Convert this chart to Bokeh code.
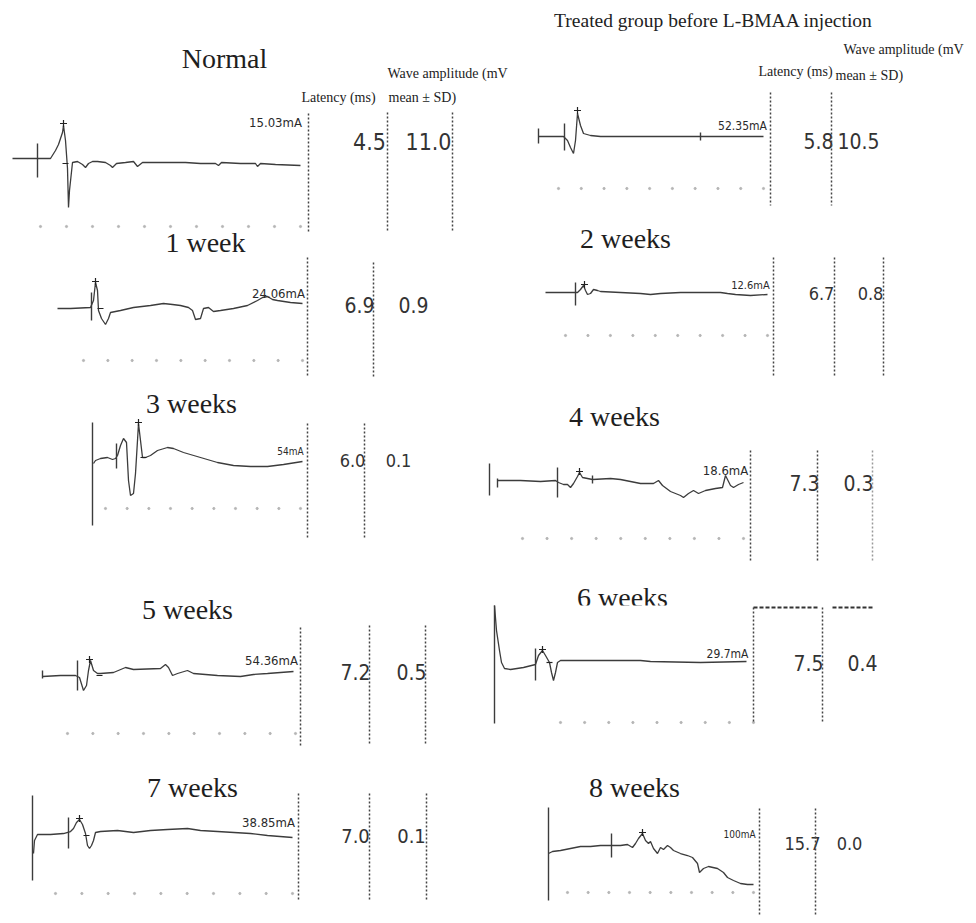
from bokeh.plotting import figure
from bokeh.models import Range1d
from bokeh.embed import file_html
from bokeh.resources import INLINE
from bokeh.core.properties import value
import numpy as np

# ------------------------------------------------------------------ data
group_labels = ["Normal", "1 week", "3 weeks", "5 weeks", "7 weeks",
                "", "2 weeks", "4 weeks", "6 weeks", "8 weeks"]
latency_ms = [4.5, 6.9, 6.0, 7.2, 7.0, 5.8, 6.7, 7.3, 7.5, 15.7]
amplitude_mv = [11.0, 0.9, 0.1, 0.5, 0.1, 10.5, 0.8, 0.3, 0.4, 0.0]
stim_labels = ["15.03mA", "24.06mA", "54mA", "54.36mA", "38.85mA",
               "52.35mA", "12.6mA", "18.6mA", "29.7mA", "100mA"]
top_title = "Treated group before L-BMAA injection"
hdr_latency = "Latency (ms)"
hdr_amp1 = "Wave amplitude (mV"
hdr_amp2 = "mean \u00b1 SD)"

# traces: time (ms) / amplitude (mV)
normal_t = [0, 3.8, 4.3, 4.6, 5.0, 5.1, 5.3, 5.5, 5.6, 5.7, 6.0, 6.5, 7.0, 7.3, 7.6, 8.0, 8.5, 9.3,
            9.8, 10.0, 10.4, 11.3, 12.1, 12.5, 13.0, 14.8, 17.3, 18.8, 20.3, 20.6, 20.9, 22.8, 24.3,
            24.5, 24.8, 26.3, 28.8]
normal_v = [0, 0, 0.8, 1.4, 2.6, 3.3, 1.8, -1.0, -4.9, -3.2, -0.4, -0.3, -0.6, -0.9, -0.5, -0.3,
            -0.3, -0.4, -0.7, -0.9, -0.5, -0.4, -0.3, -0.8, -0.4, -0.4, -0.4, -0.5, -0.5, -0.7,
            -0.4, -0.5, -0.5, -0.8, -0.5, -0.6, -0.7]
wk1_t = [0, 1.3, 3.3, 3.6, 3.8, 4.0, 4.1, 4.4, 4.8, 5.1, 5.3, 6.3, 7.6, 9.3, 10.6, 11.5, 12.3,
         13.1, 13.5, 13.8, 14.3, 14.6, 15.1, 15.6, 16.3, 17.6, 19.0, 20.0, 20.5, 21.0, 21.5,
         22.0, 23.3, 24.5]
wk1_v = [0, 0, 0.1, 0.8, 2.6, 1.8, -0.2, -1.0, -1.6, -1.0, -0.4, -0.2, 0.1, 0.3, 0.5, 0.4, 0.3,
         0.1, -0.2, -1.1, -1.0, 0.0, 0.1, -0.3, -0.2, 0.0, 0.3, 0.8, 1.1, 1.2, 0.9, 0.8, 0.6, 0.5]
wk3_t = [0.1, 0.3, 0.8, 1.5, 2.0, 2.3, 2.5, 2.8, 3.1, 3.4, 3.6, 3.8, 4.1, 4.3, 4.5, 4.6, 4.8,
         5.0, 5.3, 5.8, 6.5, 7.5, 8.1, 9.1, 10.8, 12.5, 14.1, 15.8, 17.5, 19.1, 21.0]
wk3_v = [-0.3, 0, 0.2, 0.3, 0.1, 0.2, 0.5, 1.5, 2.2, 1.8, -2.0, -3.5, -3.3, -1.3, 2.0, 3.7, 2.0,
         0.3, 0.3, 0.5, 1.0, 1.3, 1.2, 0.8, 0.3, -0.2, -0.5, -0.6, -0.6, -0.4, -0.1]
wk5_t = [0, 1.8, 3.3, 3.7, 4.1, 4.4, 4.6, 4.8, 5.1, 5.5, 5.8, 7.1, 8.3, 9.1, 11.8, 12.3, 12.6,
         13.0, 13.5, 14.5, 15.1, 17.5, 19.8, 21.1, 22.5, 25.1]
wk5_v = [-0.1, 0, 0, -0.2, -1.5, -1.0, 0.5, 1.5, 0.5, 0.2, 0.2, 0.3, 0.8, 0.6, 0.7, 1.1, 0.8,
         0, 0.2, 0.5, 0.2, 0, -0.1, 0.1, 0.2, 0.4]
wk7_t = [0.1, 0.2, 0.5, 1.8, 3.1, 3.8, 4.1, 4.4, 4.7, 5.0, 5.3, 5.5, 5.7, 5.9, 6.1, 6.3, 6.8,
         8.5, 10.1, 11.8, 13.5, 15.5, 16.8, 18.5, 21.8, 23.5, 26.0]
wk7_v = [-1.9, -0.6, 0, 0, 0.1, 0.3, 0.6, 1.2, 1.5, 1.0, 0.1, -1.1, -1.4, -1.1, -0.6, 0.2, 0.3,
         0.4, 0.2, 0.4, 0.5, 0.6, 0.4, 0.3, 0.1, -0.1, -0.3]
pre_t = [0, 2.5, 2.7, 2.9, 3.2, 3.5, 3.7, 3.9, 4.2, 4.5, 5.2, 6.2, 11.2, 16.2, 22.5]
pre_v = [0, 0, -0.2, -0.4, -1.1, -1.7, -0.4, 2.3, 1.1, 0.3, 0.1, 0, 0, 0, 0]
wk2_t = [0, 2.9, 3.2, 3.5, 3.8, 4.0, 4.2, 4.5, 4.8, 5.2, 5.5, 7.5, 9.5, 10.5, 11.5, 13.5, 15.5,
         17.5, 18.2, 19.0, 20.5, 22.2]
wk2_v = [0, 0, 0, 0.3, 0.7, 0.2, -0.2, -0.1, 0.3, 0.2, 0.1, 0, -0.1, -0.2, -0.1, 0, 0, 0, -0.1,
         -0.2, -0.3, -0.2]
wk4_t = [0, 2.3, 4.3, 5.8, 6.1, 6.6, 7.0, 7.3, 7.6, 8.0, 8.2, 8.5, 9.0, 9.5, 11.3, 12.3, 14.3,
         15.6, 16.1, 16.5, 17.3, 18.3, 18.6, 19.1, 19.6, 20.1, 20.8, 21.8, 22.5, 22.8, 23.3,
         23.6, 24.1, 24.6]
wk4_v = [0, 0, -0.1, 0, -0.2, -0.4, -0.4, -0.7, -0.3, 0.4, 0.8, 0.3, 0.2, 0.1, 0.2, 0.1, -0.3,
         -0.3, 0, -0.5, -1.1, -1.5, -1.7, -1.3, -1.0, -1.3, -1.0, -0.8, -0.7, 0.5, -0.5, -0.7,
         -0.4, -0.2]
wk6_t = [0, 0.2, 0.5, 0.7, 1.0, 1.6, 2.9, 4.1, 4.4, 4.8, 5.1, 5.5, 5.7, 5.9, 6.1, 6.3, 6.6,
         10.6, 14.6, 15.6, 20.6, 25.2]
wk6_v = [5.8, 3.3, 1.3, 0.1, -0.5, -0.6, -0.4, -0.1, 0.8, 1.3, 0.8, 0.1, -0.9, -1.7, -0.9, 0.1,
         0.3, 0.3, 0.3, 0.2, 0.1, 0.2]
wk8_t = [0, 0.4, 1.2, 2.2, 3.2, 4.2, 5.2, 6.3, 7.2, 7.9, 8.4, 8.7, 9.0, 9.4, 9.7, 10.0, 10.2,
         10.5, 10.9, 11.2, 11.5, 11.9, 12.2, 12.5, 13.2, 13.9, 14.4, 14.9, 15.1, 15.5, 16.0,
         16.9, 17.5, 17.9, 18.5, 19.2, 19.9, 20.5]
wk8_v = [0, 0.2, 0.3, 0.5, 0.7, 0.7, 0.8, 0.8, 0.8, 0.9, 0.6, 1.0, 1.5, 2.0, 1.3, 1.0, 1.2, 0.5,
         0, 0.6, 0.4, 0.8, 0.6, 0.3, 0, -0.2, -0.4, -1.0, -1.9, -1.5, -1.3, -1.5, -1.9, -2.4,
         -2.7, -3.0, -3.1, -3.1]

# stimulus / cursor ticks: time, low, high (mV)
normal_tick = ([2.5], [-1.9], [1.5])
wk1_tick = ([3.4], [-1.2], [1.6])
wk3_tick = ([0.0, 2.4], [-6.5, -0.8], [3.8, 1.7])
wk5_tick = ([0.0, 3.5], [-0.3, -1.5], [0.5, 1.5])
wk7_tick = ([0.0, 3.6], [-4.6, -1.4], [3.9, 1.7])
pre_tick = ([0.0, 2.6, 16.2], [-0.7, -1.4, -0.4], [0.8, 1.3, 0.4])
wk2_tick = ([3.0], [-1.3], [1.0])
wk4_tick = ([-0.8, 0.0, 6.0, 9.5], [-1.5, -0.7, -1.7, -0.3], [1.7, 0.2, 1.3, 0.5])
wk6_tick = ([0.0, 4.1], [-6.0, -1.7], [5.8, 1.5])
wk8_tick = ([0.0, 6.3], [-4.7, -0.4], [4.6, 2.0])

# cursor markers (time, amplitude)
normal_mark = ([5.1, 5.3], [3.5, -0.5])
wk1_mark = ([3.8, 4.3], [2.7, 0.0])
wk3_mark = ([4.6, 5.1], [3.8, 0.3])
wk5_mark = ([4.7, 5.7], [1.6, 0.0])
wk7_mark = ([4.7, 5.4], [1.6, -0.1])
pre_mark = ([3.9], [2.6])
wk2_mark = ([3.9], [0.8])
wk4_mark = ([8.2], [0.9])
wk6_mark = ([4.8, 5.5], [1.4, 0.1])
wk8_mark = ([9.4], [2.1])

traces = [(normal_t, normal_v), (wk1_t, wk1_v), (wk3_t, wk3_v), (wk5_t, wk5_v), (wk7_t, wk7_v),
          (pre_t, pre_v), (wk2_t, wk2_v), (wk4_t, wk4_v), (wk6_t, wk6_v), (wk8_t, wk8_v)]
ticks = [normal_tick, wk1_tick, wk3_tick, wk5_tick, wk7_tick,
         pre_tick, wk2_tick, wk4_tick, wk6_tick, wk8_tick]
marks = [normal_mark, wk1_mark, wk3_mark, wk5_mark, wk7_mark,
         pre_mark, wk2_mark, wk4_mark, wk6_mark, wk8_mark]

# ------------------------------------------------------------------ layout (page pixels)
W, H = 968, 915
X0, X1, Y0, Y1 = 0, 968, 0, 915
PX = 10.0  # px per ms and per mV unit on screen

origins = [(12, 158), (57, 308), (92, 460), (42, 675), (32, 834),
           (538, 136), (545, 292), (497, 480), (494, 663), (548, 853)]
title_pos = [(224, 58), (205, 242), (191, 403), (187, 609), (192, 787),
             None, (625, 238), (614, 416), (622, 597), (634, 787)]
stim_pos = [(275, 122), (278, 293), (290, 451), (271, 660), (268, 822),
            (742, 125), (750, 285), (725, 470), (727, 653), (739, 834)]
stim_size = [13, 13, 10, 13, 13, 12, 11, 13, 12, 10]
lat_pos = [(369, 141), (359, 304), (352, 460), (355, 671), (355, 835),
           (818, 140), (821, 293), (804, 482), (808, 662), (802, 843)]
amp_pos = [(428, 141), (413, 304), (398, 460), (411, 671), (411, 835),
           (858, 140), (870, 293), (858, 482), (862, 662), (849, 843)]
val_size = [23, 21, 18, 21, 20, 21, 18, 21, 21, 18]
dotted = [[(308, 113, 232), (387, 112, 232), (452, 112, 232)],
          [(307, 257, 377), (373, 262, 377)],
          [(307, 423, 538), (364, 423, 538)],
          [(300, 627, 745), (369, 625, 745), (425, 625, 745)],
          [(298, 793, 900), (369, 793, 900), (426, 793, 900)],
          [(770, 92, 205), (831, 92, 205)],
          [(773, 257, 375), (834, 257, 375), (883, 257, 375)],
          [(750, 450, 562), (817, 450, 562), (872, 450, 562)],
          [(753, 607, 723), (822, 607, 723)],
          [(759, 808, 915), (815, 808, 915)]]
dot_rows = [(40, 300, 11, 226), (83, 302, 10, 360), (105, 300, 10, 508), (67, 295, 10, 733),
            (55, 292, 10, 893), (558, 763, 10, 188), (565, 767, 10, 335), (522, 743, 10, 538),
            (560, 753, 9, 722), (567, 753, 10, 892)]

SERIF = value("'Liberation Serif', 'Times New Roman', serif")
NARROW = value("'Liberation Sans Narrow', 'Arial Narrow', 'DejaVu Sans Condensed', sans-serif")
TRACE = "#3c3c3c"

p = figure(width=W, height=H, x_range=Range1d(X0, X1), y_range=Range1d(Y1, Y0),
           output_backend="svg", toolbar_location=None, min_border=0)
p.axis.visible = False
p.grid.visible = False
p.outline_line_color = None
p.background_fill_color = "white"

# headers
p.text(x=[713], y=[20], text=[top_title], text_font=SERIF, text_font_size="19.5px",
       text_align="center", text_baseline="middle", text_color="#222222")
p.text(x=[338, 795], y=[97, 71], text=[hdr_latency] * 2, text_font=SERIF, text_font_size="14px",
       text_align="center", text_baseline="middle", text_color="#222222")
p.text(x=[387, 843], y=[73, 49], text=[hdr_amp1] * 2, text_font=SERIF, text_font_size="14px",
       text_align="left", text_baseline="middle", text_color="#222222")
p.text(x=[388, 835], y=[97, 75], text=[hdr_amp2] * 2, text_font=SERIF, text_font_size="14px",
       text_align="left", text_baseline="middle", text_color="#222222")

# titles
for i, lab in enumerate(group_labels):
    if title_pos[i] is None:
        continue
    p.text(x=[title_pos[i][0]], y=[title_pos[i][1]], text=[lab], text_font=SERIF,
           text_font_size="28px", text_align="center", text_baseline="middle",
           text_color="#1e1e1e")
# the pasted trace image crops the bottom of "6 weeks"
p.quad(left=[488], right=[752], top=[605], bottom=[614], fill_color="white", line_color=None)

# dashed bars above 6 weeks values
p.segment(x0=[753, 832], x1=[818, 873], y0=[607, 607], y1=[607, 607],
          line_color="#333333", line_width=2, line_dash="4 2")

for i in range(10):
    ox, oy = origins[i]
    xr = "px%d" % i
    yr = "py%d" % i
    p.extra_x_ranges[xr] = Range1d((X0 - ox) / PX, (X1 - ox) / PX)
    p.extra_y_ranges[yr] = Range1d((oy - Y1) / PX, (oy - Y0) / PX)

    # screen dot grid
    xs, xe, n, yy = dot_rows[i]
    p.scatter(x=list(np.linspace(xs, xe, n)), y=[yy] * n, size=2.2, color="#b5b5b5",
              marker="circle")

    # trace
    t, v = traces[i]
    p.line(x=t, y=v, x_range_name=xr, y_range_name=yr, line_color=TRACE, line_width=1.3)
    tt, lo, hi = ticks[i]
    p.segment(x0=tt, x1=tt, y0=lo, y1=hi, x_range_name=xr, y_range_name=yr,
              line_color=TRACE, line_width=1.4)
    mt, mv = marks[i]
    p.scatter(x=mt[:1], y=mv[:1], x_range_name=xr, y_range_name=yr, marker="cross",
              size=7, line_color="#222222", line_width=1.2)
    if len(mt) > 1:
        p.scatter(x=mt[1:], y=mv[1:], x_range_name=xr, y_range_name=yr, marker="dash",
                  size=6, line_color="#222222", line_width=1.2)

    # stimulus label
    p.text(x=[stim_pos[i][0]], y=[stim_pos[i][1]], text=[stim_labels[i]], text_font=NARROW,
           text_font_size="%dpx" % stim_size[i],
           text_align="center", text_baseline="middle", text_color="#2a2a2a")

    # values
    p.text(x=[lat_pos[i][0]], y=[lat_pos[i][1]], text=["%.1f" % latency_ms[i]],
           text_font=NARROW, text_font_size="%dpx" % val_size[i], text_align="center",
           text_baseline="middle", text_color="#333333")
    p.text(x=[amp_pos[i][0]], y=[amp_pos[i][1]], text=["%.1f" % amplitude_mv[i]],
           text_font=NARROW, text_font_size="%dpx" % val_size[i], text_align="center",
           text_baseline="middle", text_color="#333333")

    # dotted column separators
    for (dx, dy0, dy1) in dotted[i]:
        col = "#9a9a9a" if (i == 7 and dx == 872) else "#444444"
        p.segment(x0=[dx], x1=[dx], y0=[dy0], y1=[dy1], line_color=col, line_width=1.5,
                  line_dash="2 2")

open("out.html", "w").write(file_html(p, INLINE))
